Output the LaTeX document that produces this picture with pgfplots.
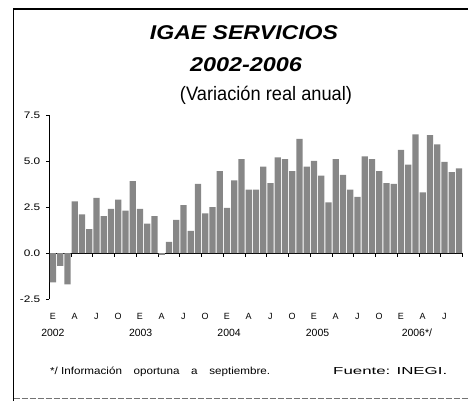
\documentclass[border=0pt]{standalone}
\usepackage{pgfplots}
\pgfplotsset{compat=1.18}
\usepackage{graphicx}
\usepackage{fontspec}
\setmainfont{Liberation Sans}
\newfontfamily\tickfont{Liberation Sans}[FakeStretch=1.25]
\begin{document}
\begin{tikzpicture}[x=1bp,y=1bp]
\useasboundingbox (0,0) rectangle (468,401);
\draw[line width=1.6bp] (13.5,0) -- (13.5,392) -- (468,392);
\draw[black!55, line width=1.2bp, dash pattern=on 6bp off 2bp] (13.5,2.5) -- (468,2.5);
\node[anchor=base, inner sep=0] at (244,361.7) {\resizebox{188bp}{\height}{\fontsize{20}{24}\selectfont\bfseries\itshape IGAE SERVICIOS}};
\node[anchor=base, inner sep=0] at (246,330) {\resizebox{112bp}{\height}{\fontsize{20}{24}\selectfont\bfseries\itshape 2002-2006}};
\node[anchor=base, inner sep=0] at (266,301) {\resizebox{172bp}{\height}{\fontsize{19.5}{24}\selectfont (Variación real anual)}};
\node[anchor=base west, inner sep=0] at (50,27) {\resizebox{220bp}{\height}{\fontsize{10.2}{12}\selectfont */ Información\hspace{1em}oportuna\hspace{1em}a\hspace{1em}septiembre.}};
\node[anchor=base west, inner sep=0] at (333,27) {\resizebox{114bp}{\height}{\fontsize{10.2}{12}\selectfont Fuente: INEGI.}};
\begin{axis}[
  at={(49.3bp,102bp)}, anchor=south west,
  scale only axis, width=413.25bp, height=184bp,
  xmin=-0.5, xmax=56.5, ymin=-2.5, ymax=7.5,
  axis y line=left, axis x line=middle,
  axis line style={-, line width=0.8bp, black},
  hide obscured x ticks=false, hide obscured y ticks=false,
  clip=false,
  ytick={-2.5,0,2.5,5,7.5},
  /pgf/number format/fixed,
  /pgf/number format/fixed zerofill,
  /pgf/number format/precision=1,
  /pgf/number format/assume math mode=true,
  yticklabel style={font=\tickfont\fontsize{9.5}{10}\selectfont, xshift=-2bp},
  xtick={2.5,5.5,...,56.5}, xticklabels={},
  tick align=outside, major tick length=3.5bp,
  tick style={line width=0.8bp, black},
  minor tick num=0,
]
\addplot[ybar, bar width=0.86, fill=black!47, draw=none] coordinates {
(0,-1.6) (1,-0.7) (2,-1.7) (3,2.8) (4,2.1) (5,1.3) (6,3.0) (7,2.0) (8,2.4) (9,2.9)
(10,2.3) (11,3.9) (12,2.4) (13,1.6) (14,2.0) (15,-0.1) (16,0.6) (17,1.8) (18,2.6) (19,1.2)
(20,3.75) (21,2.15) (22,2.5) (23,4.45) (24,2.45) (25,3.95) (26,5.1) (27,3.45) (28,3.45) (29,4.7)
(30,3.8) (31,5.2) (32,5.1) (33,4.45) (34,6.2) (35,4.7) (36,5.0) (37,4.2) (38,2.75) (39,5.1)
(40,4.25) (41,3.45) (42,3.05) (43,5.25) (44,5.1) (45,4.45) (46,3.8) (47,3.75) (48,5.6) (49,4.8)
(50,6.45) (51,3.3) (52,6.4) (53,5.9) (54,4.95) (55,4.4) (56,4.6)
};
\tikzset{mon/.style={anchor=base, inner sep=0, font=\fontsize{9}{10}\selectfont, yshift=-20bp},
         yr/.style={anchor=base, inner sep=0, font=\fontsize{10.5}{12}\selectfont, yshift=-37bp}}
\node[mon] at (axis cs:0,-2.5) {E};
\node[mon] at (axis cs:3,-2.5) {A};
\node[mon] at (axis cs:6,-2.5) {J};
\node[mon] at (axis cs:9,-2.5) {O};
\node[mon] at (axis cs:12,-2.5) {E};
\node[mon] at (axis cs:15,-2.5) {A};
\node[mon] at (axis cs:18,-2.5) {J};
\node[mon] at (axis cs:21,-2.5) {O};
\node[mon] at (axis cs:24,-2.5) {E};
\node[mon] at (axis cs:27,-2.5) {A};
\node[mon] at (axis cs:30,-2.5) {J};
\node[mon] at (axis cs:33,-2.5) {O};
\node[mon] at (axis cs:36,-2.5) {E};
\node[mon] at (axis cs:39,-2.5) {A};
\node[mon] at (axis cs:42,-2.5) {J};
\node[mon] at (axis cs:45,-2.5) {O};
\node[mon] at (axis cs:48,-2.5) {E};
\node[mon] at (axis cs:51,-2.5) {A};
\node[mon] at (axis cs:54,-2.5) {J};
\node[yr] at (axis cs:0,-2.5) {2002};
\node[yr] at (axis cs:12.1,-2.5) {2003};
\node[yr] at (axis cs:24.3,-2.5) {2004};
\node[yr] at (axis cs:36.5,-2.5) {2005};
\node[yr] at (axis cs:50.2,-2.5) {2006*/};
\end{axis}
\end{tikzpicture}
\end{document}
